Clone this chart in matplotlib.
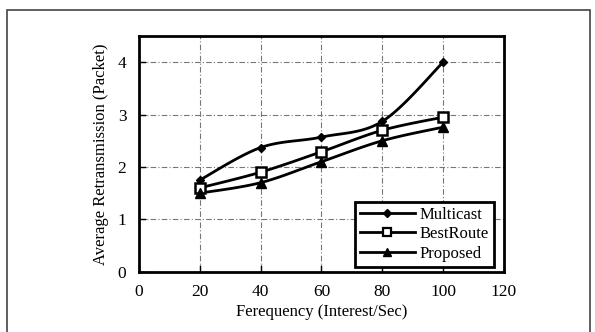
import numpy as np
import matplotlib
matplotlib.use("Agg")
import matplotlib.pyplot as plt
from matplotlib.lines import Line2D
from matplotlib.patches import Rectangle

freq = [20, 40, 60, 80, 100]
multicast = [1.75, 2.37, 2.57, 2.87, 4.0]
bestroute = [1.60, 1.90, 2.29, 2.70, 2.95]
proposed = [1.50, 1.70, 2.10, 2.50, 2.76]
series_names = ["Multicast", "BestRoute", "Proposed"]
xticks = [0, 20, 40, 60, 80, 100, 120]
yticks = [0, 1, 2, 3, 4]

plt.rcParams['font.family'] = ['Liberation Serif', 'DejaVu Serif']


def smooth(x, y, n=30):
    """Bezier smoothing (Excel-like) drawn through the data points."""
    x = np.asarray(x, float)
    y = np.asarray(y, float)
    px = np.concatenate([[x[0]], x, [x[-1]]])
    py = np.concatenate([[y[0]], y, [y[-1]]])
    xs, ys = [], []
    for i in range(1, len(px) - 2):
        p0 = np.array([px[i - 1], py[i - 1]])
        p1 = np.array([px[i], py[i]])
        p2 = np.array([px[i + 1], py[i + 1]])
        p3 = np.array([px[i + 2], py[i + 2]])
        c1 = p1 + (p2 - p0) / 6.0
        c2 = p2 - (p3 - p1) / 6.0
        t = np.linspace(0, 1, n)[:, None]
        b = ((1 - t) ** 3) * p1 + 3 * ((1 - t) ** 2) * t * c1 + 3 * (1 - t) * t ** 2 * c2 + t ** 3 * p2
        xs.append(b[:, 0])
        ys.append(b[:, 1])
    return np.concatenate(xs), np.concatenate(ys)


fig = plt.figure(figsize=(5.95, 3.32), dpi=100)
ax = fig.add_axes([0.2336, 0.1816, 0.6134, 0.71])

styles = [
    dict(marker='D', markersize=4.5, markerfacecolor='black'),
    dict(marker='s', markersize=7, markerfacecolor='white', markeredgewidth=1.8),
    dict(marker='^', markersize=6.5, markerfacecolor='black'),
]
leg_styles = [
    dict(marker='D', markersize=4, markerfacecolor='black'),
    dict(marker='s', markersize=5.5, markerfacecolor='white', markeredgewidth=1.6),
    dict(marker='^', markersize=5.5, markerfacecolor='black'),
]
handles = []
for vals, name, st, lst in zip([multicast, bestroute, proposed], series_names, styles, leg_styles):
    sx, sy = smooth(freq, vals)
    ax.plot(sx, sy, color='black', lw=2, zorder=3)
    ax.plot(freq, vals, linestyle='none', color='black', zorder=4, **st)
    handles.append(Line2D([], [], color='black', lw=2, label=name, **lst))

ax.set_xlim(0, 120)
ax.set_ylim(0, 4.5)
ax.set_xticks(xticks)
ax.set_yticks(yticks)
ax.tick_params(direction='in', length=5, width=1, labelsize=12.5, pad=9)
ax.grid(True, color='#777777', linestyle=(0, (5, 2, 1, 2)), linewidth=0.8)
for s in ax.spines.values():
    s.set_linewidth(2)
ax.set_xlabel("Ferequency (Interest/Sec)", fontsize=12, labelpad=3)
ax.set_ylabel("Average Retransmission (Packet)", fontsize=12, labelpad=6)

leg = ax.legend(handles=handles, loc='lower right', bbox_to_anchor=(0.9726, 0.02),
                borderaxespad=0,
                fontsize=12, fancybox=False, edgecolor='black', framealpha=1,
                handlelength=3.3, handletextpad=0.3, borderpad=0.3, labelspacing=0.22)
leg.get_frame().set_linewidth(2)
leg.set_zorder(10)

fig.patches.append(Rectangle((7 / 595, -0.02), 583 / 595, 1 - 10 / 332 + 0.02,
                             transform=fig.transFigure, fill=False,
                             edgecolor='#444444', linewidth=1.2))

fig.savefig("out.png", dpi=100)
